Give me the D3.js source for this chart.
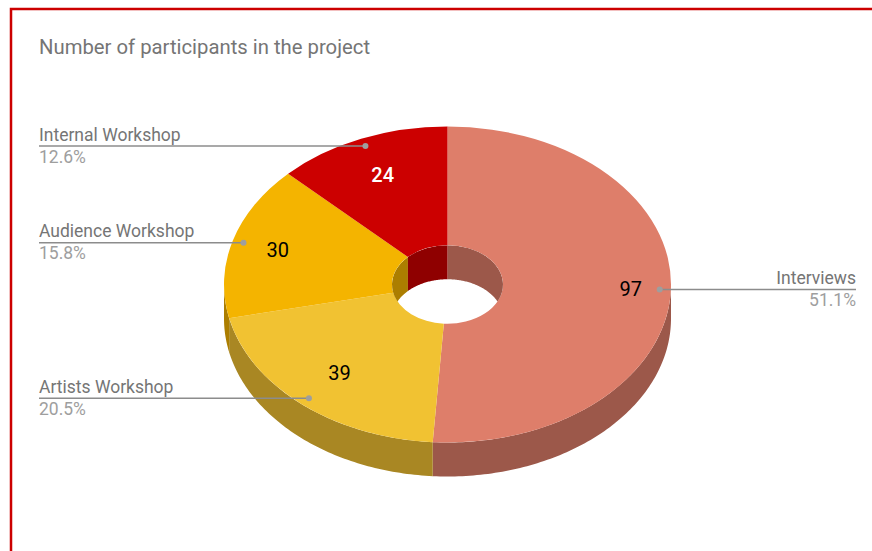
<!DOCTYPE html>
<html lang="en">
<head>
  <meta charset="UTF-8">
  <title>Number of participants in the project</title>
  <script src="https://d3js.org/d3.v7.min.js"></script>
  <style>
    html, body {
      margin: 0;
      background: #fff;
      overflow: hidden;
    }
    text {
      font-family: Roboto, sans-serif;
    }
  </style>
</head>
<body>
  <svg width="872" height="551"></svg>

  <script>
    const categories = ["Interviews", "Artists Workshop", "Audience Workshop", "Internal Workshop"];
    const values = [97, 39, 30, 24];
    const percentLabels = ["51.1%", "20.5%", "15.8%", "12.6%"];

    const topColors = ["#de7e6a", "#f1c232", "#f4b400", "#cc0000"];
    const wallColors = ["#9c584a", "#a98723", "#ac7e00", "#8f0000"];
    const valueColors = ["#000", "#000", "#000", "#fff"];
    // how far out along the slice each number sits (the source chart nudges them)
    const valueRadius = [0.82, 0.74, 0.79, 0.75];

    const svg = d3.select("svg");
    const cx = 447.5, cy = 284.5, rx = 223.5, ry = 158, depth = 34;
    const holeRx = 55.5;
    const squash = ry / rx;
    const leaderLeft = 39, leaderRight = 856;

    // Page frame, runs off the right and bottom of the window
    svg.append("rect")
      .attr("x", 11).attr("y", 9)
      .attr("width", 900).attr("height", 600)
      .attr("fill", "none")
      .attr("stroke", "#cc0000")
      .attr("stroke-width", 2.5);

    svg.append("text")
      .attr("x", 39).attr("y", 54)
      .attr("font-size", 20.3)
      .attr("fill", "#757575")
      .text("Number of participants in the project");

    const pie = d3.pie().sort(null);
    const slices = pie(values);

    // angle (0 = up, clockwise) to a point on the tilted disc
    const project = (a, r) => [cx + r * Math.sin(a), cy - r * squash * Math.cos(a)];

    function wallPath(a0, a1, r) {
      const n = Math.max(2, Math.ceil((a1 - a0) * 60));
      const angles = d3.range(n + 1).map(i => a0 + (a1 - a0) * i / n);
      const upper = angles.map(a => project(a, r));
      const lower = angles.slice().reverse().map(a => {
        const p = project(a, r);
        return [p[0], p[1] + depth];
      });
      return d3.line()(upper.concat(lower)) + "Z";
    }

    const g = svg.append("g");

    // Outer wall, front half only
    slices.forEach((d, i) => {
      const a0 = Math.max(d.startAngle, Math.PI / 2);
      const a1 = Math.min(d.endAngle, Math.PI * 1.5);
      if (a1 <= a0) return;
      g.append("path")
        .attr("d", wallPath(a0, a1, rx))
        .attr("fill", wallColors[i]);
    });

    // Top face
    const arc = d3.arc().innerRadius(holeRx).outerRadius(rx);
    const face = g.append("g")
      .attr("transform", `translate(${cx},${cy}) scale(1,${squash})`);
    face.selectAll("path")
      .data(slices)
      .enter()
      .append("path")
        .attr("d", arc)
        .attr("fill", (d, i) => topColors[i]);

    // Inside wall of the hole, back half only
    svg.append("clipPath").attr("id", "hole")
      .append("ellipse")
        .attr("cx", cx).attr("cy", cy)
        .attr("rx", holeRx).attr("ry", holeRx * squash);

    const inner = g.append("g").attr("clip-path", "url(#hole)");
    slices.forEach((d, i) => {
      [[d.startAngle, Math.min(d.endAngle, Math.PI / 2)],
       [Math.max(d.startAngle, Math.PI * 1.5), d.endAngle]].forEach(([a0, a1]) => {
        if (a1 <= a0) return;
        inner.append("path")
          .attr("d", wallPath(a0, a1, holeRx))
          .attr("fill", wallColors[i]);
      });
    });

    // Numbers on the slices
    slices.forEach((d, i) => {
      const p = project((d.startAngle + d.endAngle) / 2, rx * valueRadius[i]);
      svg.append("text")
        .attr("x", p[0]).attr("y", p[1])
        .attr("dy", "0.34em")
        .attr("text-anchor", "middle")
        .attr("font-size", 20)
        .attr("font-weight", i === 3 ? 500 : 400)
        .attr("fill", valueColors[i])
        .text(values[i]);
    });

    // Leader lines with category and share
    slices.forEach((d, i) => {
      const mid = (d.startAngle + d.endAngle) / 2;
      const p = project(mid, rx * 0.95);
      const right = mid < Math.PI;
      const endX = right ? leaderRight : leaderLeft;
      const anchor = right ? "end" : "start";

      svg.append("line")
        .attr("x1", p[0]).attr("y1", p[1])
        .attr("x2", endX).attr("y2", p[1])
        .attr("stroke", "#8c8c8c")
        .attr("stroke-width", 1.5);
      svg.append("circle")
        .attr("cx", p[0]).attr("cy", p[1])
        .attr("r", 3)
        .attr("fill", "#9e9e9e");
      svg.append("text")
        .attr("x", endX).attr("y", p[1] - 5.5)
        .attr("text-anchor", anchor)
        .attr("font-size", 17.5)
        .attr("fill", "#757575")
        .text(categories[i]);
      svg.append("text")
        .attr("x", endX).attr("y", p[1] + 16.5)
        .attr("text-anchor", anchor)
        .attr("font-size", 17.5)
        .attr("fill", "#9e9e9e")
        .text(percentLabels[i]);
    });
  </script>
</body>
</html>
